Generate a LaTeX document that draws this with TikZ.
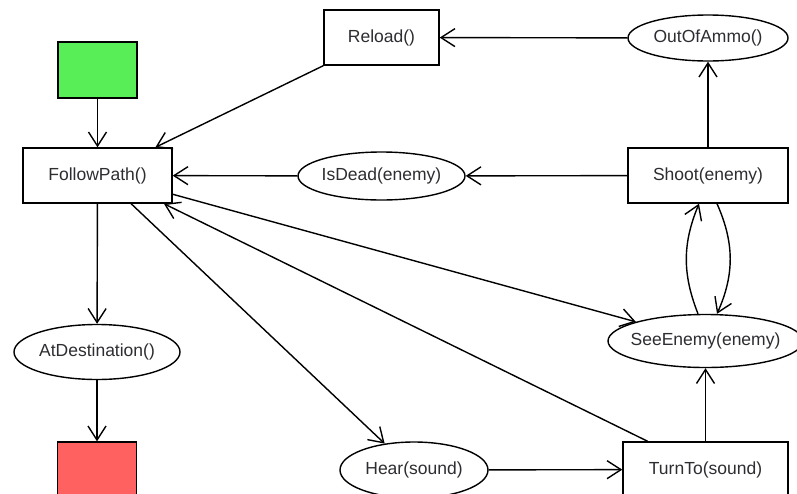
\documentclass[tikz,border=0pt]{standalone}
\usepackage{fontspec}
\setmainfont{Liberation Sans}
\usetikzlibrary{shapes.geometric,arrows.meta}
\definecolor{startgreen}{RGB}{88,238,88}
\definecolor{endred}{RGB}{255,96,96}
\definecolor{inkgray}{RGB}{45,45,50}
\tikzset{
  every node/.style={font=\fontsize{17.5}{20}\selectfont, text=inkgray, inner sep=0pt},
  action/.style={draw=black, line width=1.4pt, rectangle, minimum width=#1, minimum height=55pt},
  condition/.style={draw=black, line width=1.4pt, ellipse, inner xsep=-14pt, minimum width=#1, minimum height=52pt},
  terminal/.style={draw=black, line width=1.4pt, rectangle, minimum width=79pt, minimum height=56pt, fill=#1},
  link/.style={draw=black, line width=1.4pt, -{Straight Barb[length=14pt,width=18pt]}},
}
\begin{document}
\begin{tikzpicture}[x=1pt,y=-1pt]
  \clip (0,0) rectangle (797,493);
  \fill[white] (0,0) rectangle (797,493);

  % nodes of the behaviour graph
  \node[terminal=startgreen] (start) at (97.5,70) {};
  \node[action=149pt] (follow) at (97.5,175.5) {FollowPath()};
  \node[action=115pt] (reload) at (381.5,37.5) {Reload()};
  \node[condition=160pt, minimum height=46pt] (ammo) at (708,38) {OutOfAmmo()};
  \node[action=160pt] (shoot) at (708,175.5) {Shoot(enemy)};
  \node[condition=167pt, minimum height=48pt] (dead) at (381.5,176) {IsDead(enemy)};
  \node[condition=195pt, minimum height=53pt] (see) at (705.5,341) {SeeEnemy(enemy)};
  \node[condition=166pt, minimum height=55pt] (dest) at (97,352) {AtDestination()};
  \node[condition=148pt, minimum height=56pt] (hear) at (414,470) {Hear(sound)};
  \node[action=165pt] (turn) at (705.5,469.5) {TurnTo(sound)};
  \node[terminal=endred] (stop) at (97,470) {};

  % transitions
  \draw[link] (start) -- (follow);
  \draw[link] (reload.south west) -- (follow);
  \draw[link] (ammo) -- (reload);
  \draw[link] (shoot) -- (ammo);
  \draw[link] (shoot) -- (dead);
  \draw[link] (dead) -- (follow);
  \draw[link] (follow) -- (dest);
  \draw[link] (dest) -- (stop);
  \draw[link] (follow.-14.7) -- (see);
  \draw[link] (turn.154.4) -- (follow.-23.7);
  \draw[link] (follow.-40.2) -- (hear.138);
  \draw[link] (hear) -- (turn);
  \draw[link] (turn.north) -- (see.south);
  \draw[link] ([xshift=-7.5pt]see.north) to[bend left=22] ([xshift=-9pt]shoot.south);
  \draw[link] ([xshift=9pt]shoot.south) to[bend left=24] ([xshift=11.5pt]see.north);
\end{tikzpicture}
\end{document}
